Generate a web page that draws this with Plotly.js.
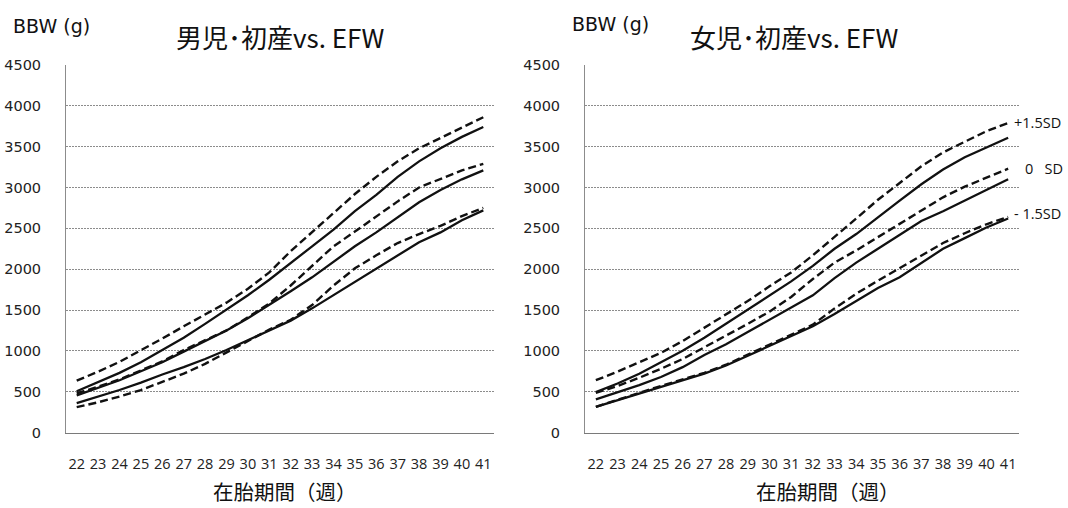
<!DOCTYPE html>
<html>
<head>
<meta charset="utf-8">
<script src="https://cdn.plot.ly/plotly-3.0.1.min.js"></script>
<style>html,body{margin:0;padding:0;background:#fff;}#chart{width:1068px;height:508px;}</style>
</head>
<body>
<div id="chart"></div>
<script>
// ---- data (gestational weeks, grams) ----
const weeks = [22,23,24,25,26,27,28,29,30,31,32,33,34,35,36,37,38,39,40,41];
const weekLabels = weeks.map(String);
const yTicks = [0,500,1000,1500,2000,2500,3000,3500,4000,4500];

// Boys, primiparous
const boyUpperDashed = [635,745,865,1005,1150,1300,1440,1590,1760,1960,2220,2450,2680,2920,3130,3320,3480,3610,3740,3860];
const boyUpperSolid  = [505,620,730,860,1010,1160,1330,1500,1680,1870,2080,2280,2485,2710,2910,3130,3320,3480,3620,3740];
const boyMidDashed   = [480,560,650,760,870,1010,1130,1250,1410,1580,1800,2040,2280,2460,2650,2830,3000,3110,3210,3290];
const boyMidSolid    = [455,550,640,750,860,990,1120,1250,1400,1560,1730,1900,2090,2280,2450,2640,2820,2970,3100,3210];
const boyLowerDashed = [310,370,440,520,620,720,840,980,1110,1260,1380,1560,1800,2010,2170,2320,2430,2530,2650,2750];
const boyLowerSolid  = [360,440,520,610,710,800,900,1010,1130,1250,1370,1520,1680,1840,2000,2170,2330,2450,2600,2720];

// Girls, primiparous
const girlUpperDashed = [640,745,860,975,1120,1280,1440,1610,1790,1960,2170,2390,2620,2850,3060,3260,3430,3560,3690,3790];
const girlUpperSolid  = [495,600,720,860,1000,1160,1330,1500,1670,1850,2040,2250,2430,2640,2840,3040,3220,3370,3490,3610];
const girlMidDashed   = [485,570,670,780,900,1040,1180,1330,1480,1660,1880,2080,2230,2390,2550,2720,2880,3010,3120,3230];
const girlMidSolid    = [405,490,580,680,800,950,1080,1230,1380,1530,1680,1890,2080,2250,2420,2590,2710,2840,2980,3100];
const girlLowerDashed = [315,400,490,570,650,730,830,950,1070,1190,1320,1520,1700,1860,2010,2170,2320,2440,2550,2640];
const girlLowerSolid  = [315,395,480,560,640,720,820,940,1060,1180,1300,1450,1610,1770,1900,2080,2250,2380,2510,2620];

const sdLabels = ['+1.5SD', '0\u00a0\u00a0 SD', '- 1.5SD'];
const titles = ['男児･初産vs. EFW', '女児･初産vs. EFW'];
const yTitle = 'BBW (g)';
const xTitle = '在胎期間（週）';

// ---- build ----
const W = 1068, H = 508;
const latin = '"Open Sans", "Noto Sans", sans-serif';
const wide = '"DejaVu Sans", "Open Sans", sans-serif';
const cjk = '"Noto Sans CJK JP", "Open Sans", sans-serif';

function tr(y, dashed, xa, ya) {
  return {
    x: weeks, y: y, xaxis: xa, yaxis: ya, type: 'scatter', mode: 'lines',
    line: {color: '#111', width: dashed ? 2.4 : 2.3, dash: dashed ? '8px,4px' : 'solid'},
    hoverinfo: 'skip', showlegend: false
  };
}
const data = [
  tr(boyUpperDashed, true, 'x', 'y'), tr(boyUpperSolid, false, 'x', 'y'),
  tr(boyMidDashed, true, 'x', 'y'), tr(boyMidSolid, false, 'x', 'y'),
  tr(boyLowerDashed, true, 'x', 'y'), tr(boyLowerSolid, false, 'x', 'y'),
  tr(girlUpperDashed, true, 'x2', 'y2'), tr(girlUpperSolid, false, 'x2', 'y2'),
  tr(girlMidDashed, true, 'x2', 'y2'), tr(girlMidSolid, false, 'x2', 'y2'),
  tr(girlLowerDashed, true, 'x2', 'y2'), tr(girlLowerSolid, false, 'x2', 'y2')
];

const yDom = [1 - 432.5 / H, 1 - 65 / H];
function xAxis(dom, anchor) {
  return {
    domain: dom, anchor: anchor, range: [21.5, 41.5], type: 'linear',
    tickvals: weeks, ticktext: weekLabels, showgrid: false, zeroline: false,
    showline: true, linecolor: '#7a7a7a', linewidth: 1, ticks: '',
    ticklabelstandoff: 18, tickfont: {family: latin, size: 14.5, color: '#222'}, fixedrange: true
  };
}
function yAxis(anchor) {
  return {
    domain: yDom, anchor: anchor, range: [0, 4500], tickvals: yTicks, ticktext: yTicks.map(String),
    showgrid: true, gridcolor: '#8c8c8c', gridwidth: 1, griddash: '2px,1px', zeroline: false,
    showline: true, linecolor: '#8c8c8c', linewidth: 1, ticks: '',
    ticklabelstandoff: 21, tickfont: {family: wide, size: 14.5, color: '#222'}, fixedrange: true
  };
}

function ann(text, xpx, ypx, size, family, xanchor) {
  return {text: text, xref: 'paper', yref: 'paper', x: xpx / W, y: 1 - ypx / H,
    xanchor: xanchor || 'center', yanchor: 'middle', showarrow: false,
    font: {family: family, size: size, color: '#111'}};
}
const annotations = [
  ann(yTitle, 11, 26, 19, wide, 'left'),
  ann(yTitle, 570, 24, 19, wide, 'left'),
  ann(titles[0], 280, 37, 26, cjk),
  ann(titles[1], 794, 37, 26, cjk),
  ann(xTitle, 285, 491, 20.5, cjk),
  ann(xTitle, 828, 491, 20.5, cjk),
  ann(sdLabels[0], 1012, 122, 14.5, latin, 'left'),
  ann(sdLabels[1], 1023, 168, 14.5, latin, 'left'),
  ann(sdLabels[2], 1012, 214, 14.5, latin, 'left')
];

const layout = {
  width: W, height: H, margin: {l: 0, r: 0, t: 0, b: 0},
  paper_bgcolor: '#fff', plot_bgcolor: '#fff', showlegend: false, hovermode: false,
  xaxis: xAxis([66 / W, 494 / W], 'y'),
  yaxis: yAxis('x'),
  xaxis2: xAxis([585 / W, 1019 / W], 'y2'),
  yaxis2: yAxis('x2'),
  annotations: annotations
};
Plotly.newPlot('chart', data, layout, {staticPlot: true, displayModeBar: false});
</script>
</body>
</html>
